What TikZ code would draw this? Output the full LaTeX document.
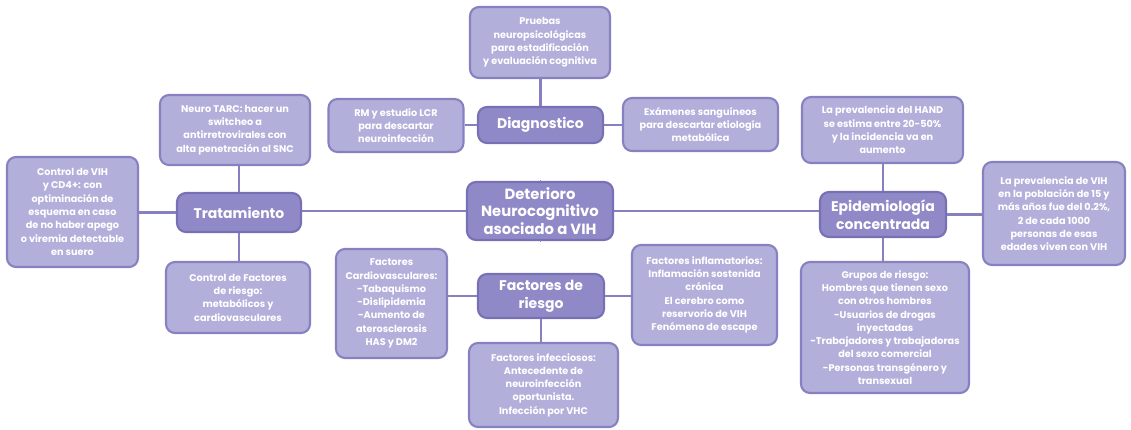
\documentclass[tikz,border=0pt]{standalone}
\usepackage{fontspec}
\setmainfont{Poppins}
\definecolor{leaffill}{HTML}{B3AFDB}
\definecolor{leafdraw}{HTML}{8781C1}
\definecolor{mainfill}{HTML}{8F8AC7}
\definecolor{maindraw}{HTML}{7770B4}
\definecolor{linec}{HTML}{8680C0}
\tikzset{
  box/.style={rounded corners=9pt, line width=2.1pt, align=center, text=white, inner sep=0pt, font=\bfseries},
  leaf/.style={box, fill=leaffill, draw=leafdraw, font=\bfseries\fontsize{9.7}{13.3}\selectfont},
  hub/.style={box, fill=mainfill, draw=maindraw, font=\bfseries\fontsize{14}{17.5}\selectfont},
  conn/.style={draw=linec, line width=2.3pt}
}
\begin{document}
\begin{tikzpicture}[x=1pt,y=-1pt]
\useasboundingbox (0,0) rectangle (1131,429);
\fill[white] (0,0) rectangle (1131,429);
% hubs
\node[hub, minimum width=146pt, minimum height=58pt, font=\bfseries\fontsize{14.8}{17.5}\selectfont] (central) at (540,211) {Deterioro\\Neurocognitivo\\asociado a VIH};
\node[hub, minimum width=125pt, minimum height=36pt] (diag) at (540.5,125) {Diagnostico};
\node[hub, minimum width=126pt, minimum height=44pt] (fact) at (541,296) {Factores de\\riesgo};
\node[hub, minimum width=124pt, minimum height=39pt] (trat) at (239,212.5) {Tratamiento};
\node[hub, minimum width=126pt, minimum height=45pt] (epid) at (883,214.5) {Epidemiología\\concentrada};
% leaves
\node[leaf, minimum width=140pt, minimum height=71pt] (pruebas) at (540,42.5) {Pruebas\\neuropsicológicas\\para estadificación\\y evaluación cognitiva};
\node[leaf, minimum width=135pt, minimum height=53pt] (rm) at (396,125.5) {RM y estudio LCR\\para descartar\\neuroinfección};
\node[leaf, minimum width=155pt, minimum height=53pt] (exam) at (700.5,124.5) {Exámenes sanguíneos\\para descartar etiología\\metabólica};
\node[leaf, minimum width=111pt, minimum height=109pt] (cardio) at (391.5,303.5) {Factores\\Cardiovasculares:\\-Tabaquismo\\-Dislipidemia\\-Aumento de\\aterosclerosis\\HAS y DM2};
\node[leaf, minimum width=145pt, minimum height=100pt] (inflam) at (704.5,295) {Factores inflamatorios:\\Inflamación sostenida\\crónica\\El cerebro como\\reservorio de VIH\\Fenómeno de escape};
\node[leaf, minimum width=149pt, minimum height=84pt] (infecc) at (543.5,385) {Factores infecciosos:\\Antecedente de\\neuroinfección\\oportunista.\\Infección por VHC};
\node[leaf, minimum width=150pt, minimum height=70pt] (neuro) at (235,130) {Neuro TARC: hacer un\\switcheo a\\antirretrovirales con\\alta penetración al SNC};
\node[leaf, minimum width=131pt, minimum height=110pt] (ctrlvih) at (72.5,212) {Control de VIH\\y CD4+: con\\optiminación de\\esquema en caso\\de no haber apego\\o viremia detectable\\en suero};
\node[leaf, minimum width=144pt, minimum height=71pt] (ctrlfact) at (238,297.5) {Control de Factores\\de riesgo:\\metabólicos y\\cardiovasculares};
\node[leaf, minimum width=161pt, minimum height=66pt] (hand) at (882.5,130) {La prevalencia del HAND\\se estima entre 20-50\%\\y la incidencia va en\\aumento};
\node[leaf, minimum width=142pt, minimum height=103pt] (vih) at (1054,213.5) {La prevalencia de VIH\\en la población de 15 y\\más años fue del 0.2\%,\\2 de cada 1000\\personas de esas\\edades viven con VIH};
\node[leaf, minimum width=168pt, minimum height=131pt] (grupos) at (885,327.5) {Grupos de riesgo:\\Hombres que tienen sexo\\con otros hombres\\-Usuarios de drogas\\inyectadas\\-Trabajadores y trabajadoras\\del sexo comercial\\-Personas transgénero y\\transexual};
% connectors
\draw[conn] (central.west) -- (trat.east |- central.west);
\draw[conn] (central.east) -- (epid.west |- central.east);
\draw[conn] (central.north) -- (central.north -| diag.south);
\draw[conn] (central.south) -- (central.south -| fact.north);
\draw[conn] (diag.north) -- (diag.north |- pruebas.south);
\draw[conn] (diag.west) -- (rm.east |- diag.west);
\draw[conn] (diag.east) -- (exam.west |- diag.east);
\draw[conn] (fact.west) -- (cardio.east |- fact.west);
\draw[conn] (fact.east) -- (inflam.west |- fact.east);
\draw[conn] (fact.south) -- (fact.south |- infecc.north);
\draw[conn] (trat.west) -- (ctrlvih.east |- trat.west);
\draw[conn] (trat.north) -- (trat.north |- neuro.south);
\draw[conn] (trat.south) -- (trat.south |- ctrlfact.north);
\draw[conn] (epid.north) -- (epid.north |- hand.south);
\draw[conn] (epid.south) -- (epid.south |- grupos.north);
\draw[conn] (epid.east) -- (vih.west |- epid.east);
\end{tikzpicture}
\end{document}
